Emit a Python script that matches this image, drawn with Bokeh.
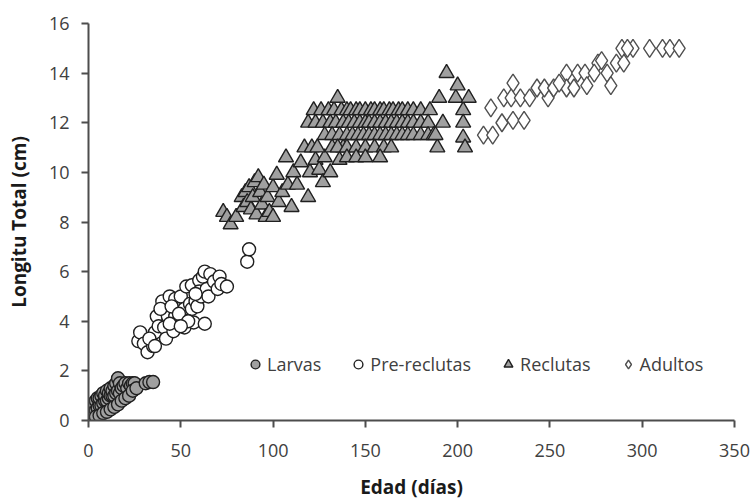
from bokeh.plotting import figure
from bokeh.models import Range1d, FixedTicker, Legend, LegendItem
from bokeh.embed import file_html
from bokeh.resources import INLINE

# ---- data ----
larvas_x = [1, 2, 2, 3, 3, 4, 4, 5, 5, 6, 6, 7, 7, 8, 8, 9, 9, 10, 10, 11, 11, 12, 12,
            13, 13, 14, 14, 15, 15, 16, 16, 17, 17, 18, 19, 20, 21, 22, 23, 24, 25,
            4, 6, 8, 10, 12, 14, 16, 18, 20, 22, 24, 26, 31, 33, 35]
larvas_y = [0.3, 0.2, 0.5, 0.3, 0.7, 0.4, 0.8, 0.5, 0.9, 0.6, 0.9, 0.6, 1.0, 0.7, 1.1,
            0.8, 1.0, 0.8, 1.2, 0.9, 1.1, 1.0, 1.3, 1.0, 1.2, 1.0, 1.4, 1.1, 1.5, 1.2,
            1.7, 1.1, 1.5, 1.3, 1.4, 1.5, 1.3, 1.5, 1.4, 1.5, 1.5,
            0.15, 0.2, 0.3, 0.35, 0.45, 0.55, 0.65, 0.8, 0.9, 1.0, 1.2, 1.3, 1.5, 1.55, 1.55]

pre_x = [27, 28, 30, 32, 35, 36, 37, 38, 40, 41, 42, 43, 44, 46, 47, 47, 48, 50, 51,
         52, 52, 53, 53, 55, 56, 56, 57, 58, 59, 60, 60, 61, 62, 63, 63, 64, 65, 66,
         68, 70, 71, 72, 75, 39, 45, 49, 54, 58, 33, 36, 44, 50, 86, 87]
pre_y = [3.2, 3.55, 3.1, 2.75, 3.0, 3.55, 4.2, 3.8, 4.8, 3.75, 3.3, 4.2, 5.0, 3.6,
         4.9, 4.2, 4.5, 5.0, 4.0, 4.5, 3.75, 5.4, 4.0, 4.7, 4.5, 5.45, 3.95, 4.8, 4.6,
         5.65, 5.2, 5.0, 5.8, 6.0, 3.9, 5.3, 5.0, 5.9, 5.6, 5.3, 5.8, 5.5, 5.4, 4.5,
         4.6, 4.3, 4.0, 5.1, 3.3, 3.0, 3.9, 3.8, 6.4, 6.9]

rec_x = [73, 75, 77, 80, 83, 84, 85, 86, 87, 88, 89, 90, 91, 92, 93, 94, 95, 96, 97, 98,
         100, 100, 102, 103, 105, 107, 108, 110, 111, 113, 115, 117, 119, 120, 121,
         123, 125, 127, 128, 131, 132, 136, 138,
         122, 126, 130, 133, 137, 140, 142, 145, 147, 150, 153, 155, 158, 160, 163, 165,
         168, 170, 173, 176, 180, 185,
         119, 123, 127, 131, 134, 138, 141, 144, 147, 150, 152, 155, 158, 161, 164, 167,
         170, 173, 176, 180, 184,
         128, 132, 136, 140, 143, 146, 149, 152, 155, 158, 161, 164, 167, 170, 173, 176,
         180, 184, 187,
         124, 135, 140, 145, 150, 155, 160, 164,
         140, 145, 150, 158,
         135, 189, 188, 190, 192, 194, 199, 200, 203, 203, 203, 204, 206]
rec_y = [8.4, 8.2, 7.9, 8.2, 9.0, 8.6, 9.2, 8.8, 9.4, 8.5, 9.0, 9.6, 8.3, 9.8, 9.2, 8.7,
         9.5, 8.2, 9.0, 8.4, 8.2, 9.4, 9.9, 8.8, 9.2, 10.6, 9.5, 8.6, 10.0, 9.5, 10.4,
         11.0, 9.0, 10.0, 11.0, 10.5, 10.1, 9.6, 10.6, 10.0, 11.0, 10.5, 11.0,
         12.5, 12.5, 12.5, 12.5, 12.5, 12.5, 12.5, 12.5, 12.5, 12.5, 12.5, 12.5, 12.5,
         12.5, 12.5, 12.5, 12.5, 12.5, 12.5, 12.5, 12.5, 12.5,
         12.0, 12.0, 12.0, 12.0, 12.0, 12.0, 12.0, 12.0, 12.0, 12.0, 12.0, 12.0, 12.0,
         12.0, 12.0, 12.0, 12.0, 12.0, 12.0, 12.0, 12.0,
         11.5, 11.5, 11.5, 11.5, 11.5, 11.5, 11.5, 11.5, 11.5, 11.5, 11.5, 11.5, 11.5,
         11.5, 11.5, 11.5, 11.5, 11.5, 11.5,
         11.0, 11.0, 11.0, 11.0, 11.0, 11.0, 11.0, 11.0,
         10.6, 10.6, 10.6, 10.6,
         13.0, 11.0, 11.5, 13.0, 12.0, 14.0, 13.0, 13.5, 12.5, 12.0, 11.4, 11.0, 13.0]

adu_x = [214, 219, 218, 224, 230, 236, 225, 230, 229, 234, 239, 243, 249, 247, 252,
         259, 259, 265, 269, 263, 270, 276, 281, 283, 286, 290, 289, 295, 304, 311,
         315, 320, 255, 274, 278, 292]
adu_y = [11.5, 11.5, 12.6, 12.0, 12.1, 12.1, 13.0, 13.6, 13.0, 13.0, 13.0, 13.4, 13.0,
         13.4, 13.4, 14.0, 13.4, 14.0, 14.0, 13.4, 13.5, 14.4, 14.0, 13.5, 14.4, 14.4,
         15.0, 15.0, 15.0, 15.0, 15.0, 15.0, 13.6, 14.0, 14.5, 15.0]

x_ticks = [0, 50, 100, 150, 200, 250, 300, 350]
y_ticks = [0, 2, 4, 6, 8, 10, 12, 14, 16]

FONT = "Open Sans"
AX = "#4d4d4d"

p = figure(width=754, height=503, output_backend="svg", toolbar_location=None,
           x_range=Range1d(0, 350), y_range=Range1d(0, 16),
           min_border_left=88, min_border_right=20, min_border_top=23,
           min_border_bottom=83)
p.outline_line_color = None
p.grid.visible = False

r_lar = p.scatter(larvas_x, larvas_y, marker="circle", size=13, fill_color="#a0a0a0",
                  line_color="#202020", line_width=1.4)
r_pre = p.scatter(pre_x, pre_y, marker="circle", size=13, fill_color="white",
                  line_color="#202020", line_width=1.4)
r_rec = p.scatter(rec_x, rec_y, marker="triangle", size=15, fill_color="#a0a0a0",
                  line_color="#202020", line_width=1.4)
r_adu = p.scatter(adu_x, adu_y, marker="diamond", size=18, fill_color="white",
                  line_color="#505050", line_width=1.4)

for ax in (p.xaxis[0], p.yaxis[0]):
    ax.axis_line_color = AX
    ax.axis_line_width = 2
    ax.major_tick_line_color = AX
    ax.major_tick_line_width = 2
    ax.major_tick_out = 7
    ax.major_tick_in = 0
    ax.minor_tick_line_color = None
    ax.major_label_text_font = FONT
    ax.major_label_text_font_size = "18px"
    ax.major_label_text_color = "#404040"
    ax.axis_label_text_font = FONT
    ax.axis_label_text_font_size = "19px"
    ax.axis_label_text_font_style = "bold"
    ax.axis_label_text_color = "#1a1a1a"

p.xaxis.ticker = FixedTicker(ticks=x_ticks)
p.yaxis.ticker = FixedTicker(ticks=y_ticks)
p.xaxis.axis_label = "Edad (días)"
p.yaxis.axis_label = "Longitu Total (cm)"
p.xaxis.major_label_standoff = 16
p.xaxis.axis_label_standoff = 14
p.yaxis.major_label_standoff = 12
p.yaxis.axis_label_standoff = 14

legend = Legend(items=[LegendItem(label="Larvas", renderers=[r_lar]),
                       LegendItem(label="Pre-reclutas", renderers=[r_pre]),
                       LegendItem(label="Reclutas", renderers=[r_rec]),
                       LegendItem(label="Adultos", renderers=[r_adu])],
                orientation="horizontal", location=(156, 44),
                border_line_color=None, background_fill_alpha=0,
                label_text_font=FONT, label_text_font_size="18px",
                label_text_color="#404040", glyph_width=22, glyph_height=24,
                label_standoff=1, spacing=26, padding=2, margin=0)
p.add_layout(legend)

open("out.html", "w").write(file_html(p, INLINE))
